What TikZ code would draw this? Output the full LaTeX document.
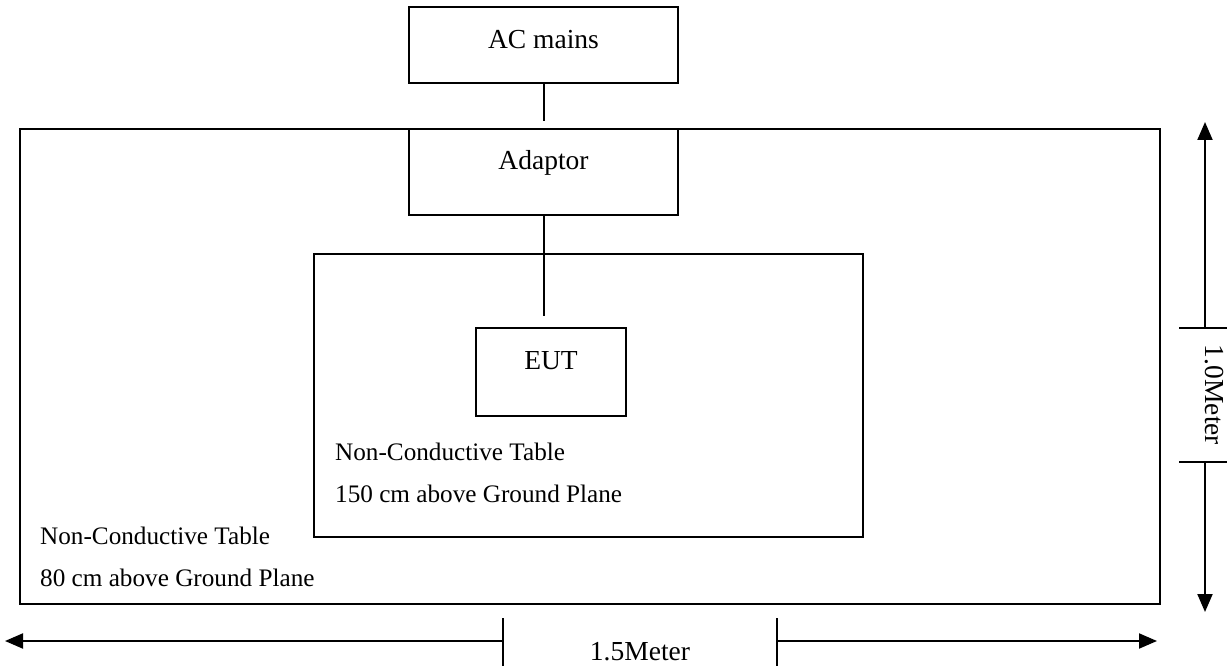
\documentclass[tikz,border=0pt]{standalone}
\usepackage{fontspec}
\setmainfont{Liberation Serif}
\usetikzlibrary{arrows.meta}
\begin{document}
\begin{tikzpicture}[x=1pt,y=-1pt,
  box/.style={draw, line width=2pt, inner sep=0pt, outer sep=0pt, rectangle},
  lbl/.style={font=\fontsize{27.5}{32}\selectfont, inner sep=0pt},
  tbl/.style={font=\fontsize{25.2}{30}\selectfont, inner sep=0pt, anchor=west},
  wire/.style={line width=2pt},
  dimarrow/.style={line width=2pt, -{Triangle[length=18pt,width=15pt]}},
  tickline/.style={line width=2pt}]
\useasboundingbox (0,0) rectangle (1227,666);
% boxes
\node[box, minimum width=1140pt, minimum height=475pt] (outer) at (590,366.5) {};
\node[box, minimum width=549pt, minimum height=283pt] (inner) at (588.5,395.5) {};
\node[box, minimum width=269pt, minimum height=76pt] (ac) at (543.5,45) {};
\node[box, fill=white, minimum width=269pt, minimum height=86pt] (ad) at (543.5,172) {};
\node[box, minimum width=150pt, minimum height=88pt] (eut) at (551,372) {};
% labels
\node[lbl] (acl) at (543.5,40) {AC mains};
\node[lbl] (adl) at (543.5,163) {Adaptor};
\node[lbl] (eutl) at (551,361) {EUT};
\node[tbl] (it1) at (335,452) {Non-Conductive Table};
\node[tbl] (it2) at (335,494) {150 cm above Ground Plane};
\node[tbl] (ot1) at (40,536) {Non-Conductive Table};
\node[tbl] (ot2) at (40,578) {80 cm above Ground Plane};
% wires
\draw[wire] (ac.south) -- ([yshift=8pt]ad.north);
\coordinate (ee) at (ad.south |- eut.north);
\draw[wire] (ad.south) -- ([yshift=12pt]ee);
% vertical dimension
\coordinate (vtt) at (1205,328);
\coordinate (vtb) at (1205,462);
\coordinate (vtop) at (1205,122);
\coordinate (vbot) at (1205,612);
\draw[dimarrow] (vtt) -- (vtop);
\draw[dimarrow] (vtb) -- (vbot);
\draw[tickline] (1179,328) -- (1227,328);
\draw[tickline] (1179,462) -- (1227,462);
\node[lbl, rotate=-90] (vlab) at (1214,395) {1.0Meter};
% horizontal dimension
\coordinate (hl) at (503,641);
\coordinate (hr) at (777,641);
\coordinate (hlt) at (5,641);
\coordinate (hrt) at (1157,641);
\draw[dimarrow] (hl) -- (hlt);
\draw[dimarrow] (hr) -- (hrt);
\draw[tickline] (503,618) -- (503,666);
\draw[tickline] (777,618) -- (777,666);
\node[lbl] (hlab) at (640,652) {1.5Meter};
\end{tikzpicture}
\end{document}
